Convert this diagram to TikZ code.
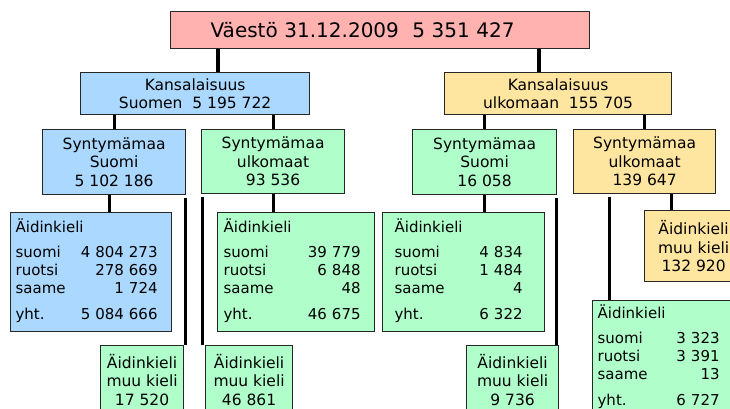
\documentclass[tikz,border=0pt]{standalone}
\usepackage{fontspec}
\setmainfont{DejaVu Sans}
\definecolor{vpink}{RGB}{255,178,176}
\definecolor{kblue}{RGB}{170,216,255}
\definecolor{kgreen}{RGB}{176,255,202}
\definecolor{kyellow}{RGB}{255,230,160}
% mother tongue table: width, suomi, ruotsi, saame, yht.
\newcommand{\aidtab}[5]{%
  \begin{tabular*}{#1}{@{}l@{\extracolsep{\fill}}r@{}}
    \multicolumn{2}{@{}l}{Äidinkieli}\\[7pt]
    suomi & #2\\
    ruotsi & #3\\
    saame & #4\\[8pt]
    yht. & #5
  \end{tabular*}}
\begin{document}
\begin{tikzpicture}[x=1pt, y=-1pt,
    box/.style={draw=black!85, line width=1.2pt, anchor=north west,
                inner sep=2pt, align=center,
                font=\fontsize{15.5}{18.5}\selectfont},
    tabbox/.style={box, align=left, inner xsep=5pt,
                   font=\fontsize{15}{18}\selectfont},
    conn/.style={line width=3pt},
    trunk/.style={line width=4pt},
    drop/.style={conn, shorten <=3pt}
  ]
  \useasboundingbox (0,0) rectangle (730,409);
  \clip (0,0) rectangle (730,409);
  % Population
  \node[box, fill=vpink, align=left, text width=339pt, inner xsep=40pt,
        minimum height=37pt, font=\fontsize{20}{24}\selectfont] (vaesto)
    at (170,11) {Väestö 31.12.2009\ \ 5 351 427};
  % Citizenship
  \node[box, fill=kblue, minimum width=229pt, minimum height=42pt] (kansSuomi)
    at (80,72) {Kansalaisuus\\Suomen\ \ 5 195 722};
  \node[box, fill=kyellow, minimum width=227pt, minimum height=42pt] (kansUlk)
    at (444,72) {Kansalaisuus\\ulkomaan\ \ 155 705};
  % Country of birth
  \node[box, fill=kblue, minimum width=143pt, minimum height=65pt] (syntSS)
    at (42,129) {Syntymämaa\\Suomi\\5 102 186};
  \node[box, fill=kgreen, minimum width=143pt, minimum height=64pt] (syntSU)
    at (201,129) {Syntymämaa\\ulkomaat\\93 536};
  \node[box, fill=kgreen, minimum width=144pt, minimum height=65pt] (syntUS)
    at (412,129) {Syntymämaa\\Suomi\\16 058};
  \node[box, fill=kyellow, minimum width=142pt, minimum height=64pt] (syntUU)
    at (573,129) {Syntymämaa\\ulkomaat\\139 647};
  % Mother tongue
  \node[tabbox, fill=kblue, text width=151pt, minimum height=119pt] (aidSS)
    at (10,212) {\aidtab{142pt}{4 804 273}{278 669}{1 724}{5 084 666}};
  \node[tabbox, fill=kgreen, text width=147pt, minimum height=119pt] (aidSU)
    at (217,212) {\hspace*{1pt}\aidtab{137pt}{39 779}{6 848}{48}{46 675}};
  \node[tabbox, fill=kgreen, text width=152pt, minimum height=119pt] (aidUS)
    at (382,212) {\hspace*{7pt}\aidtab{128pt}{4 834}{1 484}{4}{6 322}};
  \node[tabbox, fill=kgreen, text width=140pt, minimum height=114pt] (aidUU)
    at (592,300) {\aidtab{122pt}{3 323}{3 391}{13}{6 727}};
  \node[box, fill=kgreen, minimum width=83pt, minimum height=68pt] (muuSS)
    at (100,345) {Äidinkieli\\muu kieli\\17 520};
  \node[box, fill=kgreen, minimum width=87pt, minimum height=68pt] (muuSU)
    at (205,345) {Äidinkieli\\muu kieli\\46 861};
  \node[box, fill=kgreen, minimum width=92pt, minimum height=68pt] (muuUS)
    at (466,345) {Äidinkieli\\muu kieli\\9 736};
  \node[box, fill=kyellow, minimum width=98pt, minimum height=71pt] (muuUU)
    at (644,210) {Äidinkieli\\muu kieli\\132 920};
  % Connectors
  \draw[trunk] ([xshift=22.5pt]kansSuomi.north)
    -- ([xshift=22.5pt]kansSuomi.north |- vaesto.south);
  \draw[trunk] ([xshift=-19.5pt]kansUlk.north)
    -- ([xshift=-19.5pt]kansUlk.north |- vaesto.south);
  \draw[conn] (syntSS.north |- kansSuomi.south) -- (syntSS.north);
  \draw[conn] (syntSU.north |- kansSuomi.south) -- (syntSU.north);
  \draw[conn] (syntUS.north |- kansUlk.south) -- (syntUS.north);
  \draw[conn] (syntUU.north |- kansUlk.south) -- (syntUU.north);
  \draw[conn] ([xshift=-4.5pt]syntSS.south)
    -- ([xshift=-4.5pt]syntSS.south |- aidSS.north);
  \draw[drop] ([xshift=-1pt]syntSS.south east)
    -- ([xshift=-1pt]syntSS.south east |- muuSS.north);
  \draw[drop] ([xshift=1pt]syntSU.south west)
    -- ([xshift=1pt]syntSU.south west |- muuSU.north);
  \draw[conn] (syntSU.south) -- (syntSU.south |- aidSU.north);
  \draw[conn] (syntUS.south) -- (syntUS.south |- aidUS.north);
  \draw[drop] ([xshift=-1pt]syntUS.south east)
    -- ([xshift=-1pt]syntUS.south east |- muuUS.north);
  \draw[drop] ([xshift=36pt]syntUU.south west)
    -- ([xshift=36pt]syntUU.south west |- aidUU.north);
  \draw[conn] ([xshift=-45pt]syntUU.south east)
    -- ([xshift=-45pt]syntUU.south east |- muuUU.north);
\end{tikzpicture}
\end{document}
